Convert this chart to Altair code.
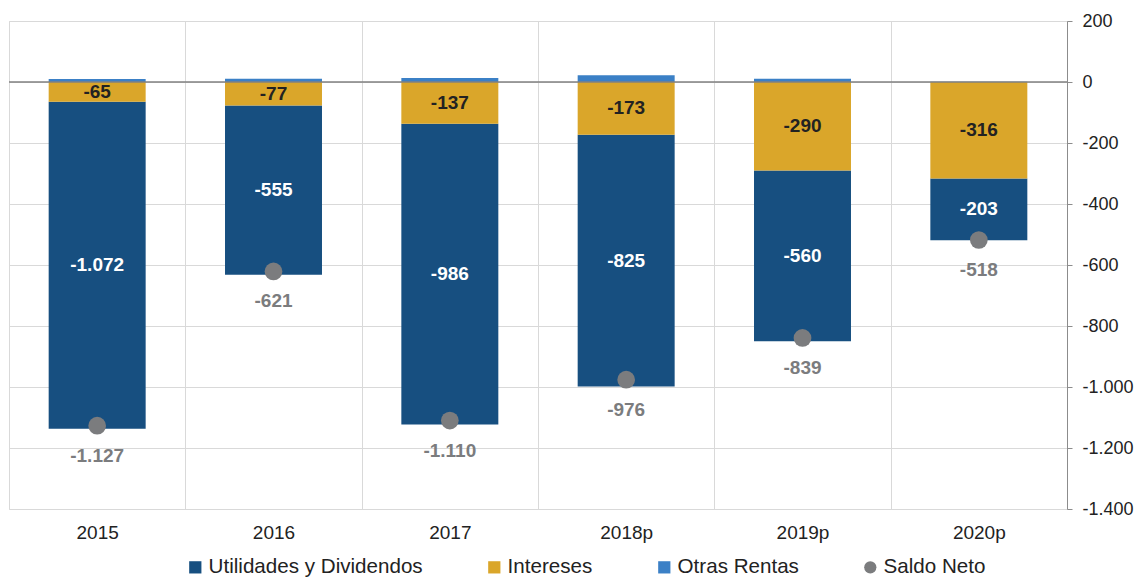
import altair as alt
import pandas as pd

years = ["2015", "2016", "2017", "2018p", "2019p", "2020p"]
utilidades = [-1072, -555, -986, -825, -560, -203]
intereses = [-65, -77, -137, -173, -290, -316]
otras = [10, 11, 13, 22, 11, 1]
saldo = [-1127, -621, -1110, -976, -839, -518]

series = ["Utilidades y Dividendos", "Intereses", "Otras Rentas", "Saldo Neto"]
colors = ["#174f80", "#daa62a", "#3b80c6", "#7b7c7e"]
shapes = ["square", "square", "square", "circle"]
stack_order = {"Intereses": 0, "Utilidades y Dividendos": 1, "Otras Rentas": 2}

FONT = "Liberation Sans"


def fmt(v):
    s = f"{abs(v):,}".replace(",", ".")
    return ("-" if v < 0 else "") + s


rows = []
for i, y in enumerate(years):
    for name, vals in [("Utilidades y Dividendos", utilidades), ("Intereses", intereses), ("Otras Rentas", otras)]:
        rows.append({"year": y, "serie": name, "value": vals[i], "orden": stack_order[name], "label": fmt(vals[i])})
bars_df = pd.DataFrame(rows)
saldo_df = pd.DataFrame({"year": years, "serie": "Saldo Neto", "value": saldo, "label": [fmt(v) for v in saldo]})
zero_df = pd.DataFrame({"z": [0]})

x_enc = alt.X(
    "year:N",
    sort=years,
    scale=alt.Scale(paddingInner=0, paddingOuter=0),
    axis=alt.Axis(
        title=None, domain=False, ticks=False, grid=True, tickBand="extent",
        gridColor="#d9d9d9", labelFont=FONT, labelFontSize=19, labelColor="#222222",
        labelPadding=14, labelAngle=0,
    ),
)
y_scale = alt.Scale(domain=[-1400, 200], nice=False, zero=False)
y_axis = alt.Axis(
    title=None, orient="right", values=list(range(-1400, 201, 200)),
    labelExpr="(datum.value < 0 ? '-' : '') + replace(format(abs(datum.value), ','), ',', '.')",
    gridColor="#d9d9d9", domainColor="#8c8c8c", tickColor="#8c8c8c", tickSize=5,
    labelFont=FONT, labelFontSize=18, labelColor="#222222", labelPadding=10,
)

color_scale = alt.Scale(domain=series, range=colors)
shape_scale = alt.Scale(domain=series, range=shapes)
legend = alt.Legend(
    title=None, orient="none", direction="horizontal", legendX=176, legendY=536,
    labelFont=FONT, labelFontSize=20.6, labelColor="#222222", symbolSize=150,
    columnPadding=61, labelOffset=3, padding=0, symbolStrokeWidth=0, labelLimit=400,
)

bars = alt.Chart(bars_df).mark_bar(width=alt.RelativeBandSize(0.55)).encode(
    x=x_enc,
    y=alt.Y("value:Q", stack="zero", scale=y_scale, axis=y_axis),
    color=alt.Color("serie:N", scale=color_scale, legend=legend),
    order=alt.Order("orden:Q"),
)

labels = alt.Chart(bars_df).transform_stack(
    stack="value", groupby=["year"], sort=[alt.SortField("orden")], as_=["v0", "v1"]
).transform_calculate(
    mid="(datum.v0 + datum.v1) / 2"
).transform_filter(
    "datum.serie != 'Otras Rentas'"
).mark_text(font=FONT, fontSize=19, fontWeight="bold", baseline="middle").encode(
    x=alt.X("year:N", sort=years),
    y=alt.Y("mid:Q", scale=y_scale),
    text="label:N",
    color=alt.condition("datum.serie == 'Intereses'", alt.value("#222222"), alt.value("#ffffff")),
)

zero_rule = alt.Chart(zero_df).mark_rule(color="#808080", strokeWidth=1.5).encode(
    y=alt.Y("z:Q", scale=y_scale)
)

points = alt.Chart(saldo_df).mark_point(size=314, opacity=1, filled=True).encode(
    x=alt.X("year:N", sort=years),
    y=alt.Y("value:Q", scale=y_scale),
    color=alt.Color("serie:N", scale=color_scale, legend=legend),
    shape=alt.Shape("serie:N", scale=shape_scale, legend=legend),
)

saldo_labels = alt.Chart(saldo_df).mark_text(
    font=FONT, fontSize=19, fontWeight="bold", baseline="middle", dy=30, color="#7b7c7e"
).encode(
    x=alt.X("year:N", sort=years),
    y=alt.Y("value:Q", scale=y_scale),
    text="label:N",
)

chart = alt.layer(bars, zero_rule, labels, points, saldo_labels).properties(
    width=1058, height=488,
    padding={"left": 1, "top": 13, "right": 69, "bottom": 69},
    autosize=alt.AutoSizeParams(type="none"),
).configure_view(stroke="#d9d9d9", fill="#fcfcfc").configure(background="white")

chart.save("out.html", embed_options={"renderer": "svg", "actions": False})
